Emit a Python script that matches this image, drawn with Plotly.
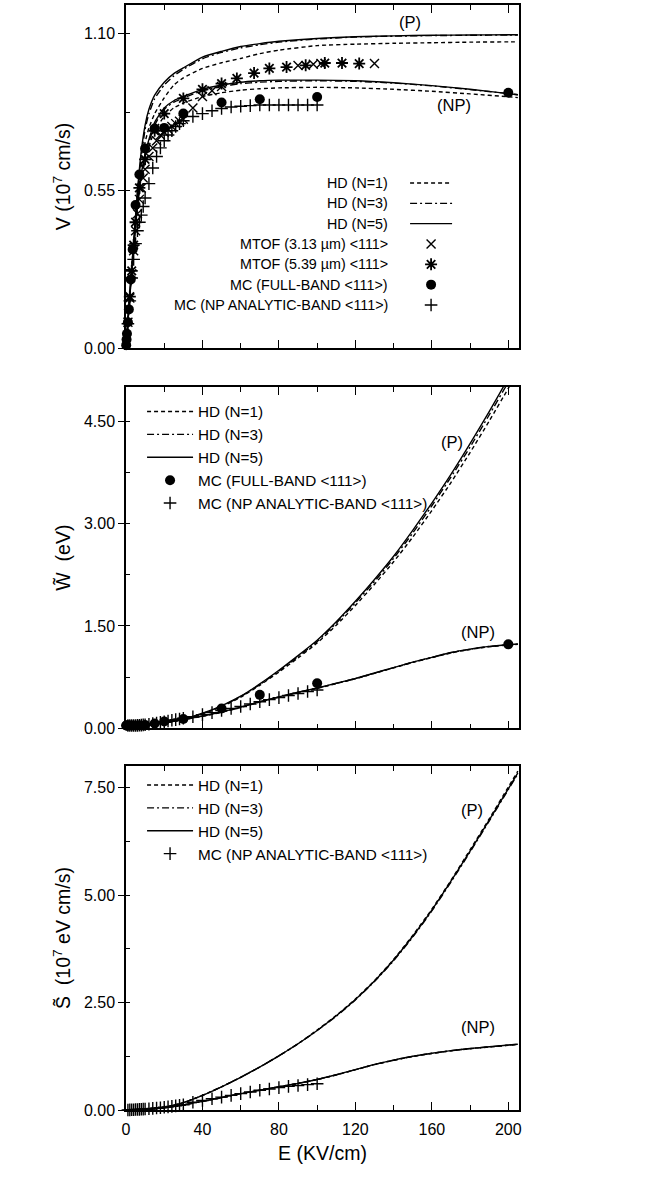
import plotly.graph_objects as go

FONT = "Liberation Sans, Arial, Helvetica, sans-serif"

# ---------------- data ----------------
# Panel 1: drift velocity V (10^7 cm/s) vs field E (kV/cm)
E_HD_V = [0, 1, 2, 3, 4, 5, 6, 7, 8, 10, 12, 15, 20, 25, 30, 40, 50, 60, 70, 80, 100, 120, 140, 160, 180, 200, 205]
V_P_N1 = [0, .095, .19, .28, .365, .45, .53, .595, .645, .72, .77, .82, .875, .92, .945, .978, .998, 1.013, 1.03, 1.042, 1.058, 1.063, 1.066, 1.068, 1.07, 1.071, 1.071]
V_P_N3 = [0, .095, .19, .28, .37, .455, .54, .61, .67, .765, .82, .872, .92, .952, .975, 1.012, 1.034, 1.05, 1.061, 1.07, 1.081, 1.088, 1.091, 1.093, 1.094, 1.095, 1.095]
V_P_N5 = [0, .095, .19, .28, .37, .46, .55, .625, .69, .78, .835, .885, .93, .96, .98, 1.018, 1.038, 1.055, 1.065, 1.073, 1.083, 1.089, 1.092, 1.094, 1.095, 1.096, 1.096]
V_NP_N1 = [0, .09, .18, .265, .345, .42, .485, .54, .59, .655, .705, .76, .81, .84, .857, .88, .893, .902, .907, .91, .912, .91, .905, .898, .889, .879, .876]
V_NP_N3 = [0, .09, .18, .27, .35, .425, .495, .55, .60, .67, .72, .78, .835, .86, .875, .90, .915, .925, .93, .933, .935, .933, .927, .917, .904, .89, .886]
V_NP_N5 = [0, .09, .18, .27, .35, .43, .50, .56, .61, .68, .73, .79, .84, .865, .88, .905, .92, .93, .935, .937, .937, .935, .928, .918, .905, .89, .886]

E_MTOF313 = [1, 2, 3, 4, 5, 6, 7, 8, 9, 10, 12, 14, 16, 18, 20, 22, 24, 26, 28, 30, 35, 40, 45, 50, 90, 98, 102, 130]
V_MTOF313 = [0.09, 0.175, 0.26, 0.34, 0.41, 0.47, 0.52, 0.56, 0.595, 0.625, 0.67, 0.70, 0.725, 0.745, 0.755, 0.765,
             0.775, 0.785, 0.793, 0.80, 0.84, 0.88, 0.90, 0.915, 0.988, 0.993, 0.995, 0.995]
E_MTOF539 = [2, 3, 4, 5, 7, 10, 15, 20, 30, 40, 50, 58, 67, 75, 84, 94, 104, 113, 122]
V_MTOF539 = [0.18, 0.27, 0.36, 0.44, 0.56, 0.66, 0.76, 0.82, 0.873, 0.905, 0.925, 0.943, 0.962, 0.978, 0.983, 0.989,
             0.997, 0.997, 0.995]

E_MC_FB = [0.1, 0.3, 0.5, 1, 1.5, 2.5, 3.5, 5, 7, 10, 15, 20, 30, 50, 70, 100, 200]
V_MC_FB = [0.01, 0.03, 0.05, 0.09, 0.135, 0.24, 0.345, 0.50, 0.607, 0.698, 0.768, 0.770, 0.82, 0.859, 0.870, 0.878, 0.893]
W_MC_FB = [0.04, 0.04, 0.04, 0.04, 0.04, 0.04, 0.04, 0.041, 0.043, 0.047, 0.07, 0.10, 0.135, 0.29, 0.49, 0.66, 1.23]

E_MC_NP = [1, 2, 3, 4, 5, 6, 7, 8, 9, 10, 12, 14, 16, 18, 20, 22, 24, 26, 28, 30,
           35, 40, 45, 50, 55, 60, 65, 70, 75, 80, 85, 90, 95, 100]
V_MC_NP = [0.085, 0.165, 0.245, 0.31, 0.365, 0.41, 0.44, 0.465, 0.495, 0.525,
           0.575, 0.63, 0.67, 0.70, 0.725, 0.745, 0.76, 0.775, 0.785, 0.795,
           0.81, 0.82, 0.83, 0.838, 0.843, 0.846, 0.848, 0.85, 0.85, 0.85, 0.85, 0.85, 0.85, 0.85]
W_MC_NP = [0.04, 0.04, 0.04, 0.041, 0.042, 0.043, 0.045, 0.047, 0.05, 0.053,
           0.06, 0.068, 0.077, 0.087, 0.097, 0.107, 0.117, 0.127, 0.137, 0.147,
           0.17, 0.2, 0.23, 0.26, 0.29, 0.32, 0.355, 0.39, 0.42, 0.45, 0.48, 0.51, 0.54, 0.56]
S_MC_NP = [0.001, 0.003, 0.005, 0.007, 0.01, 0.012, 0.015, 0.018, 0.021, 0.024,
           0.03, 0.037, 0.045, 0.054, 0.063, 0.073, 0.084, 0.096, 0.108, 0.12,
           0.18, 0.22, 0.26, 0.30, 0.34, 0.38, 0.42, 0.46, 0.49, 0.52, 0.55, 0.57, 0.59, 0.61]

# Panels 2 and 3: mean energy W (eV) and energy flux S (10^7 eV cm/s)
E_HD_WS = [0, 10, 20, 30, 40, 50, 60, 70, 80, 90, 100, 110, 120, 130, 140, 150, 160, 170, 180, 190, 200, 205]
W_P_N1 = [0.04, 0.045, 0.08, 0.13, 0.21, 0.315, 0.455, 0.63, 0.825, 1.03, 1.25, 1.51, 1.8, 2.11, 2.44, 2.8, 3.19, 3.6, 4.04, 4.5, 4.98, 5.23]
W_P_N3 = [0.04, 0.045, 0.08, 0.133, 0.215, 0.325, 0.465, 0.64, 0.84, 1.05, 1.27, 1.54, 1.84, 2.15, 2.49, 2.86, 3.26, 3.68, 4.12, 4.59, 5.07, 5.32]
W_P_N5 = [0.04, 0.045, 0.08, 0.135, 0.22, 0.33, 0.47, 0.65, 0.85, 1.065, 1.29, 1.56, 1.86, 2.18, 2.52, 2.9, 3.3, 3.72, 4.17, 4.64, 5.13, 5.38]
W_NP_N1 = [0.04, 0.045, 0.078, 0.125, 0.175, 0.235, 0.305, 0.385, 0.455, 0.525, 0.585, 0.655, 0.725, 0.805, 0.885, 0.965, 1.035, 1.105, 1.155, 1.195, 1.22, 1.23]
W_NP_N3 = [0.04, 0.045, 0.079, 0.128, 0.178, 0.238, 0.308, 0.388, 0.458, 0.528, 0.588, 0.658, 0.728, 0.808, 0.888, 0.968, 1.038, 1.108, 1.158, 1.198, 1.223, 1.233]
W_NP_N5 = [0.04, 0.045, 0.08, 0.13, 0.18, 0.24, 0.31, 0.39, 0.46, 0.53, 0.59, 0.66, 0.73, 0.81, 0.89, 0.97, 1.04, 1.11, 1.16, 1.2, 1.225, 1.235]

S_P_N1 = [0, 0.01, 0.06, 0.17, 0.34, 0.54, 0.76, 1.0, 1.26, 1.54, 1.86, 2.2, 2.58, 3.01, 3.5, 4.06, 4.67, 5.34, 6.05, 6.77, 7.51, 7.88]
S_P_N3 = [0, 0.01, 0.06, 0.17, 0.34, 0.54, 0.76, 1.0, 1.26, 1.54, 1.85, 2.18, 2.56, 2.99, 3.47, 4.02, 4.63, 5.3, 6.0, 6.72, 7.45, 7.82]
S_P_N5 = [0, 0.01, 0.06, 0.17, 0.34, 0.54, 0.76, 1.0, 1.26, 1.54, 1.85, 2.19, 2.57, 3.0, 3.49, 4.04, 4.65, 5.32, 6.02, 6.74, 7.47, 7.84]
S_NP_N1 = [0, 0.01, 0.05, 0.12, 0.2, 0.29, 0.38, 0.46, 0.54, 0.62, 0.71, 0.815, 0.935, 1.055, 1.155, 1.245, 1.315, 1.375, 1.425, 1.465, 1.505, 1.525]
S_NP_N3 = [0, 0.01, 0.05, 0.12, 0.2, 0.29, 0.38, 0.46, 0.54, 0.62, 0.71, 0.818, 0.938, 1.058, 1.158, 1.248, 1.318, 1.378, 1.428, 1.468, 1.508, 1.528]
S_NP_N5 = [0, 0.01, 0.05, 0.12, 0.2, 0.29, 0.38, 0.46, 0.54, 0.62, 0.71, 0.82, 0.94, 1.06, 1.16, 1.25, 1.32, 1.38, 1.43, 1.47, 1.51, 1.53]

X_TICKS = [0, 40, 80, 120, 160, 200]
V_TICKS = [0.0, 0.55, 1.10]
W_TICKS = [0.0, 1.5, 3.0, 4.5]
S_TICKS = [0.0, 2.5, 5.0, 7.5]

HD_NAMES = ["HD (N=1)", "HD (N=3)", "HD (N=5)"]
NM_MTOF1 = "MTOF (3.13 µm) &lt;111&gt;"
NM_MTOF2 = "MTOF (5.39 µm) &lt;111&gt;"
NM_FB = "MC (FULL-BAND &lt;111&gt;)"
NM_NP = "MC (NP ANALYTIC-BAND &lt;111&gt;)"
LEG_TOP = HD_NAMES + [NM_MTOF1, NM_MTOF2, NM_FB, NM_NP]

# ---------------- geometry helpers ----------------
WIDTH, HEIGHT = 667, 1178
ML, MR, MT, MB = 126, 27, 5, 68
PW = WIDTH - ML - MR
PH = HEIGHT - MT - MB


def pxx(p):
    return (p - ML) / PW


def pyy(p):
    return (HEIGHT - MB - p) / PH


DASHES = ["4px,3px", "7px,3px,2px,3px", "solid"]
LW = 1.4

fig = go.Figure()


def hd_traces(xa, ya, leg, E, P, NP):
    for i in range(3):
        for ys, show in ((P[i], True), (NP[i], False)):
            fig.add_trace(go.Scatter(
                x=E, y=ys, mode="lines", xaxis=xa, yaxis=ya, legend=leg,
                name=HD_NAMES[i], legendgroup=f"{leg}{i}", showlegend=show,
                line=dict(color="black", width=LW, dash=DASHES[i], shape="spline", smoothing=0.5),
                hoverinfo="skip"))


def markers(xa, ya, leg, E, Y, name, symbol, size, lw):
    fig.add_trace(go.Scatter(
        x=E, y=Y, mode="markers", xaxis=xa, yaxis=ya, legend=leg, name=name,
        cliponaxis=False,
        marker=dict(symbol=symbol, size=size, color="black",
                    line=dict(color="black", width=lw)),
        hoverinfo="skip"))


hd_traces("x", "y", "legend", E_HD_V, [V_P_N1, V_P_N3, V_P_N5], [V_NP_N1, V_NP_N3, V_NP_N5])
markers("x", "y", "legend", E_MTOF313, V_MTOF313, NM_MTOF1, "x-thin", 9, 1.4)
markers("x", "y", "legend", E_MTOF539, V_MTOF539, NM_MTOF2, "asterisk", 10, 1.8)
markers("x", "y", "legend", E_MC_FB, V_MC_FB, NM_FB, "circle", 10, 0)
markers("x", "y", "legend", E_MC_NP, V_MC_NP, NM_NP, "cross-thin", 9, 1.4)

hd_traces("x2", "y2", "legend2", E_HD_WS, [W_P_N1, W_P_N3, W_P_N5], [W_NP_N1, W_NP_N3, W_NP_N5])
markers("x2", "y2", "legend2", E_MC_FB, W_MC_FB, NM_FB, "circle", 10, 0)
markers("x2", "y2", "legend2", E_MC_NP, W_MC_NP, NM_NP, "cross-thin", 9, 1.4)

hd_traces("x3", "y3", "legend3", E_HD_WS, [S_P_N1, S_P_N3, S_P_N5], [S_NP_N1, S_NP_N3, S_NP_N5])
markers("x3", "y3", "legend3", E_MC_NP, S_MC_NP, NM_NP, "cross-thin", 9, 1.4)

# ---------------- axes ----------------
TICK_FS, TITLE_FS, LEG_FS, LAB_FS = 16, 19.5, 14.3, 16.5
tickfont = dict(family=FONT, size=TICK_FS, color="black")
titlefont = dict(family=FONT, size=TITLE_FS, color="black")
xbase = dict(range=[0, 205.6], showline=True, linecolor="black", linewidth=1.5, mirror="ticks",
             ticks="inside", ticklen=8, tickwidth=1.2, tickcolor="black",
             tickmode="array", tickvals=X_TICKS,
             minor=dict(tick0=0, dtick=20, ticks="inside", ticklen=5, tickwidth=1.2, tickcolor="black"),
             showgrid=False, zeroline=False, automargin=False, tickfont=tickfont)


def ybase(rng, vals, minor_dtick, title, dom, anchor):
    return dict(range=rng, domain=dom, anchor=anchor, showline=True, linecolor="black", linewidth=1.5,
                mirror=True, ticks="outside", ticklen=6, tickwidth=1.2, tickcolor="black",
                tickmode="array", tickvals=vals, tickformat=".2f", tickfont=tickfont,
                ticklabelstandoff=0,
                minor=dict(tick0=0, dtick=minor_dtick, ticks="inside", ticklen=4, tickwidth=1.1, tickcolor="black"),
                showgrid=False, zeroline=False, automargin=False,
                title=dict(text=title, font=titlefont, standoff=8))


def yright(rng, vals, minor_dtick, over, anchor):
    return dict(range=rng, overlaying=over, anchor=anchor, side="right", showline=False,
                ticks="inside", ticklen=6, tickwidth=1.2, tickcolor="black", showticklabels=False,
                tickmode="array", tickvals=vals,
                minor=dict(tick0=0, dtick=minor_dtick, ticks="inside", ticklen=4, tickwidth=1.1, tickcolor="black"),
                showgrid=False, zeroline=False, automargin=False)


dom_top = [pyy(348), pyy(5)]
dom_mid = [pyy(728.3), pyy(387)]
dom_bot = [pyy(1110), pyy(766)]

layout = dict(
    width=WIDTH, height=HEIGHT, margin=dict(l=ML, r=MR, t=MT, b=MB),
    paper_bgcolor="white", plot_bgcolor="white",
    font=dict(family=FONT, color="black"),
    hovermode=False,
    xaxis=dict(xbase, anchor="y", showticklabels=False),
    xaxis2=dict(xbase, anchor="y2", showticklabels=False),
    xaxis3=dict(xbase, anchor="y3", ticklabelstandoff=4,
                title=dict(text="E (KV/cm)", font=titlefont, standoff=9)),
    yaxis=ybase([0, 1.2], V_TICKS, 0.275, "V (10<sup>7</sup> cm/s)", dom_top, "x"),
    yaxis2=ybase([0, 5.0], W_TICKS, 0.75, "W\u0303\u00a0 (eV)", dom_mid, "x2"),
    yaxis3=ybase([0, 8.0], S_TICKS, 1.25, "S\u0303\u00a0 (10<sup>7</sup> eV cm/s)", dom_bot, "x3"),
    yaxis4=yright([0, 1.2], V_TICKS, 0.275, "y", "x"),
    yaxis5=yright([0, 5.0], W_TICKS, 0.75, "y2", "x2"),
    yaxis6=yright([0, 8.0], S_TICKS, 1.25, "y3", "x3"),
)

# legends: top one shows symbols only (its text is right-aligned annotations, as in the original)
TRANSP = "rgba(0,0,0,0)"
ROW_TOP = 20.33
LEGF = 15.3
ROW_MID = 1.3 * LEGF + 3
top_first, mid_first, bot_first = 183.0, 411.5, 785.0
leg_common = dict(bgcolor=TRANSP, borderwidth=0, xanchor="left", yanchor="top",
                  tracegroupgap=0, itemclick=False, itemdoubleclick=False, orientation="v")
layout["legend"] = dict(leg_common, x=pxx(491), y=pyy(top_first - 5 - ROW_TOP / 2), itemwidth=42,
                        font=dict(family=FONT, size=(ROW_TOP - 3) / 1.3, color=TRANSP))
layout["legend2"] = dict(leg_common, x=pxx(147), y=pyy(mid_first - 5 - ROW_MID / 2), itemwidth=46,
                         font=dict(family=FONT, size=LEGF, color="black"))
layout["legend3"] = dict(leg_common, x=pxx(147), y=pyy(bot_first - 5 - ROW_MID / 2), itemwidth=46,
                         font=dict(family=FONT, size=LEGF, color="black"))

fig.update_layout(**layout)

annos = []
LEGFONT = dict(family=FONT, size=LEG_FS, color="black")
for i, t in enumerate(LEG_TOP):
    annos.append(dict(text=t, xref="paper", yref="paper", x=pxx(471), y=pyy(top_first + i * ROW_TOP),
                      xanchor="right", yanchor="middle", showarrow=False, font=LEGFONT))

LABFONT = dict(family=FONT, size=LAB_FS, color="black")
for xr, yr, x, y, t in [("x", "y", 148.8, 1.142, "(P)"), ("x", "y", 171.6, 0.85, "(NP)"),
                        ("x2", "y2", 170.3, 4.2, "(P)"), ("x2", "y2", 183.9, 1.415, "(NP)"),
                        ("x3", "y3", 180.8, 6.98, "(P)"), ("x3", "y3", 184.1, 1.94, "(NP)")]:
    annos.append(dict(text=t, xref=xr, yref=yr, x=x, y=y, xanchor="center", yanchor="middle",
                      showarrow=False, font=LABFONT))
fig.update_layout(annotations=annos)

fig.write_html("out.html", config={"displayModeBar": False})
